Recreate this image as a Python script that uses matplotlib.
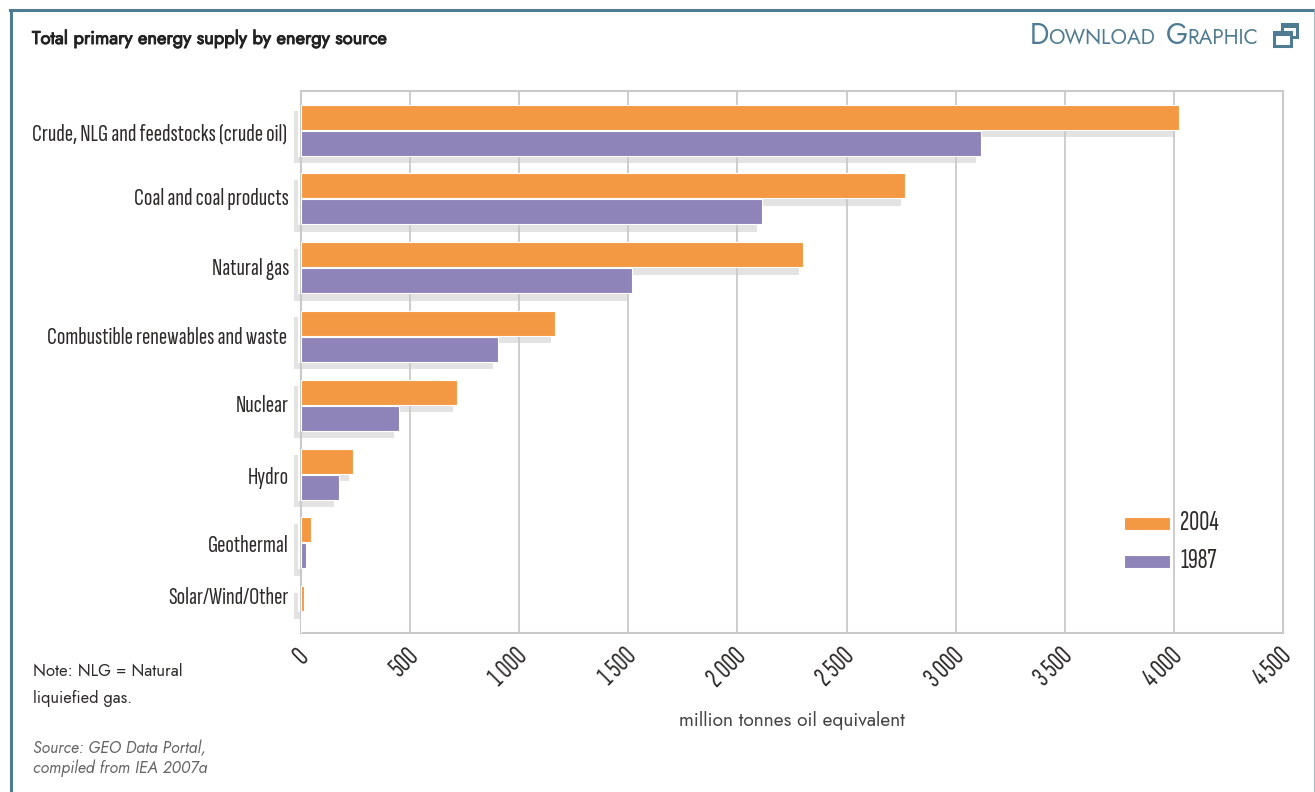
import matplotlib
matplotlib.use('Agg')
import matplotlib.pyplot as plt
import matplotlib.patheffects as pe
from matplotlib.font_manager import fontManager
from matplotlib.lines import Line2D
from matplotlib.patches import Rectangle
from matplotlib.transforms import ScaledTranslation

W, H = 1315, 792

categories = ['Crude, NLG and feedstocks (crude oil)', 'Coal and coal products', 'Natural gas',
              'Combustible renewables and waste', 'Nuclear', 'Hydro', 'Geothermal', 'Solar/Wind/Other']
values_2004 = [4024, 2768, 2300, 1164, 715, 238, 46, 14]
values_1987 = [3116, 2113, 1517, 903, 449, 174, 23, 0]
x_ticks = [0, 500, 1000, 1500, 2000, 2500, 3000, 3500, 4000, 4500]
x_labels = ['0', '500', '1 000', '1 500', '2 000', '2 500', '3 000', '3 500', '4 000', '4 500']

ORANGE = '#F39843'
PURPLE = '#8F84BA'
SHADOW = '#E3E3E3'
GRID = '#C9C9C9'
FRAME = '#4F7C93'
TEXT = '#2E2C2B'

names = {f.name for f in fontManager.ttflist}
narrow = 'Sofia Sans Extra Condensed' if 'Sofia Sans Extra Condensed' in names else 'Roboto Condensed'
body = 'Jost' if 'Jost' in names else 'Lato'


def fx(px):
    return px / W


def fy(py):
    return 1 - py / H


fig = plt.figure(figsize=(W / 100, H / 100), dpi=100)
ax = fig.add_axes([fx(301), fy(633), (1283 - 301) / W, (633 - 91) / H])
ax.set_xlim(0, 4500)
pitch = 68.8  # pixels per category
ax.set_ylim(7 + (633 - 611.6) / pitch, -(130 - 91) / pitch)

px_x = 4500 / 982  # data units per pixel
px_y = 1 / pitch
bar_h = 25 * px_y
gap = 1 * px_y
y_2004 = [i - (bar_h + gap) / 2 for i in range(8)]
y_1987 = [i + (bar_h + gap) / 2 for i in range(8)]

for i in range(8):
    # grey offset shadows behind the bars
    ax.barh(y_2004[i] + 7 * px_y, values_2004[i] + 3 * px_x, height=bar_h + 1 * px_y, left=-7 * px_x,
            color=SHADOW, zorder=1, clip_on=False)
    if values_1987[i] > 0:
        ax.barh(y_1987[i] + 7 * px_y, values_1987[i] + 2 * px_x, height=bar_h + 1 * px_y, left=-7 * px_x,
                color=SHADOW, zorder=1, clip_on=False)
    # white band hides the shadow between axis and the grey strip
    h = 54 if values_1987[i] > 0 else 28
    top = y_2004[i] - bar_h / 2
    ax.barh(top + (h / 2 - 2) * px_y, 3 * px_x, height=h * px_y, left=-3 * px_x, color='white', zorder=1.5,
            clip_on=False)

ax.barh(y_2004, values_2004, height=bar_h, color=ORANGE, edgecolor='white', linewidth=0.8, zorder=3)
ax.barh(y_1987, values_1987, height=bar_h, color=PURPLE, edgecolor='white', linewidth=0.8, zorder=3)

ax.set_xticks(x_ticks)
ax.set_xticklabels(x_labels, rotation=45, ha='right', family=narrow, fontsize=20, color=TEXT)
ax.tick_params(axis='x', length=0, pad=8)
ax.set_yticks([])
offset = ScaledTranslation(13 / 100, 0, fig.dpi_scale_trans)
for lab in ax.get_xticklabels():
    lab.set_transform(lab.get_transform() + offset)
ax.grid(axis='x', color=GRID, linewidth=1.3)
ax.set_axisbelow(False)
for ln in ax.get_xgridlines():
    ln.set_zorder(2)
for s in ax.spines.values():
    s.set_color(GRID)
    s.set_linewidth(1.5)
    s.set_zorder(2)

# category labels sit a little unevenly in the original
label_x = [287, 289, 289, 287, 289, 289, 289, 289]
label_y = [134.5, 198.5, 268.5, 338.5, 405.5, 478.5, 546.5, 598.5]
for name, lx, ly in zip(categories, label_x, label_y):
    fig.text(fx(lx), fy(ly), name, ha='right', va='center', family=narrow, fontsize=18, color=TEXT)

# legend, white box cuts the grid line
ax.add_patch(Rectangle((fx(1110), fy(585)), 110 / W, 85 / H, transform=fig.transFigure,
                       facecolor='white', edgecolor='none', zorder=2.5))
legend_y = [523.5, 561.5]
for c, ly, t in zip([ORANGE, PURPLE], legend_y, ['2004', '1987']):
    ax.add_patch(Rectangle((fx(1124), fy(ly + 6.5)), 46 / W, 13 / H, transform=fig.transFigure,
                           facecolor=c, edgecolor='white', linewidth=0.8, zorder=4))
    fig.text(fx(1180), fy(ly), t, ha='left', va='center', family=narrow, fontsize=20, color=TEXT, zorder=5)

# text around the plot, the title font has no bold cut so it gets a thin stroke
title = fig.text(fx(32), fy(38.5), 'Total primary energy supply by energy source', family=body,
                 fontsize=13.2, color='#222222', va='center')
title.set_path_effects([pe.withStroke(linewidth=0.7, foreground='#222222')])
fig.text(fx(792), fy(720), 'million tonnes oil equivalent', family=body, fontsize=13.8, color='#444444',
         ha='center', va='center')
fig.text(fx(33), fy(671), 'Note: NLG = Natural', family=body, fontsize=12, color=TEXT, va='center')
fig.text(fx(33), fy(698), 'liquiefied gas.', family=body, fontsize=11.8, color=TEXT, va='center')
fig.text(fx(33), fy(748), 'Source: GEO Data Portal,', family=body, style='italic', fontsize=11.5,
         color='#666666', va='center')
fig.text(fx(33), fy(768), 'compiled from IEA 2007a', family=body, style='italic', fontsize=11.6,
         color='#666666', va='center')

# small caps header link
parts = [('D', 20.5, 1030), ('OWNLOAD', 15, 1048), ('G', 20.5, 1166), ('RAPHIC', 15, 1187)]
for t, size, px in parts:
    fig.text(fx(px), fy(44.5), t, family=body, fontsize=size, color=FRAME, va='baseline')

# icon, two overlapping windows
for x0, y0, w, h in [(1282, 24, 15, 13), (1274, 32, 17, 14)]:
    ax.add_patch(Rectangle((fx(x0), fy(y0 + h)), w / W, h / H, transform=fig.transFigure, clip_on=False,
                           facecolor='white', edgecolor=FRAME, linewidth=2.2, zorder=6))
    ax.add_patch(Rectangle((fx(x0), fy(y0 + 4)), w / W, 4 / H, transform=fig.transFigure, clip_on=False,
                           facecolor=FRAME, edgecolor='none', zorder=6))

# frame of the panel
fig.add_artist(Line2D([fx(10.5), fx(10.5)], [0, fy(9.5)], color=FRAME, linewidth=2.2))
fig.add_artist(Line2D([fx(10), fx(1315)], [fy(9.5), fy(9.5)], color=FRAME, linewidth=2.2))
fig.add_artist(Line2D([fx(1314.5), fx(1314.5)], [0, fy(9.5)], color='#8FADB9', linewidth=1.2))

fig.savefig('out.png', dpi=100)
